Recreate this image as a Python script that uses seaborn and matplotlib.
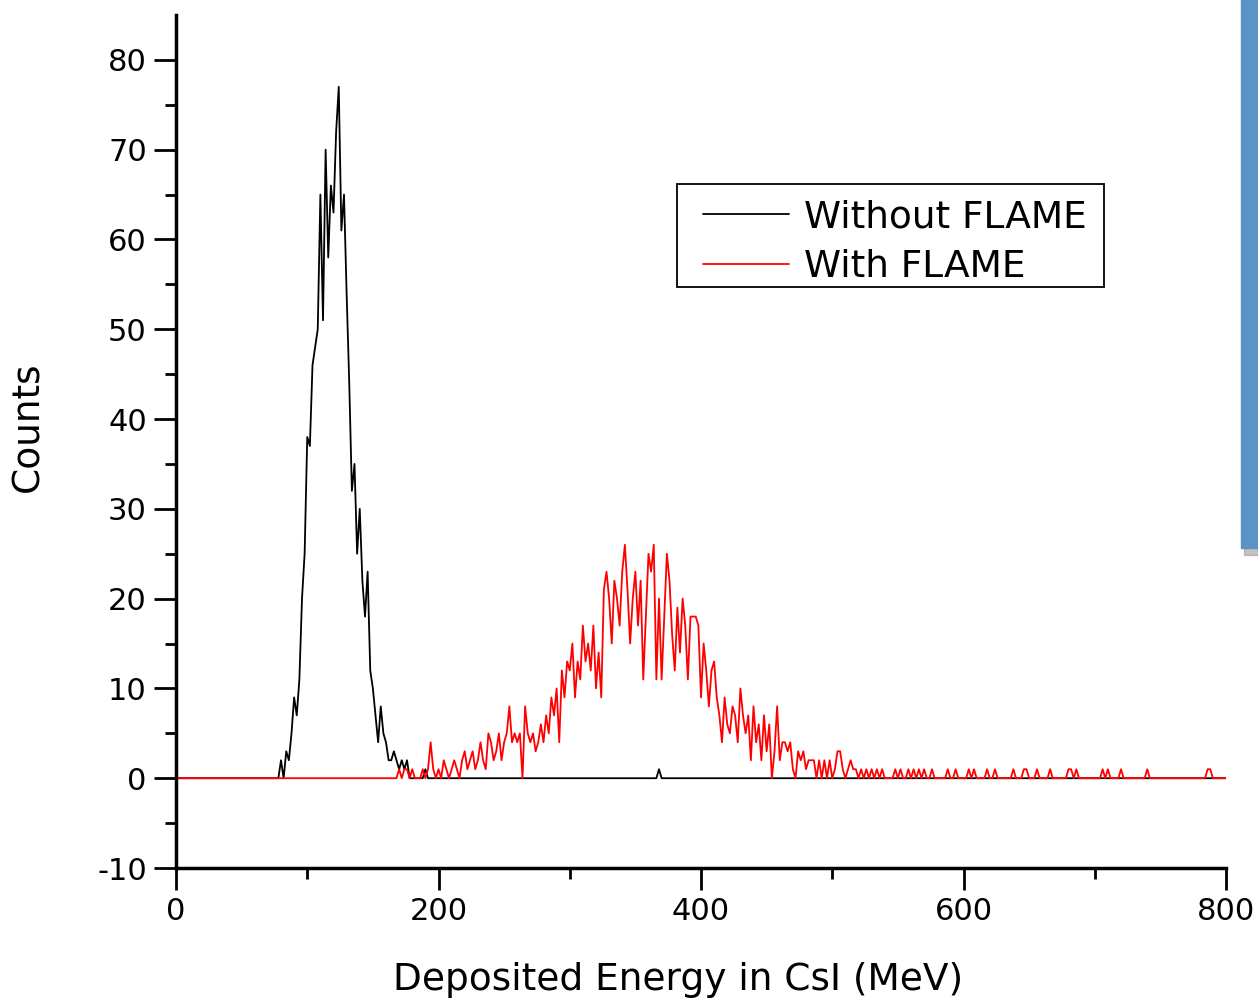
import numpy as np
import pandas as pd
import matplotlib
matplotlib.use("Agg")
import matplotlib.pyplot as plt
import seaborn as sns
from matplotlib.patches import Rectangle

# energy grid, 2 MeV bins over the full axis
bin_width = 2
energy = np.arange(0, 802, bin_width)

# Without FLAME: counts for 76..180 MeV
black_start = 76
black_counts = [0, 0, 2, 0, 3, 2, 5, 9, 7, 11, 20, 25, 38, 37, 46, 48, 50, 65,
                51, 70, 58, 66, 63, 72, 77, 61, 65, 54, 44, 32, 35, 25, 30, 22,
                18, 23, 12, 10, 7, 4, 8, 5, 4, 2, 2, 3, 2, 1, 2, 1, 2, 0, 0]
# single counts further out
black_extra = [190, 368]

# With FLAME: counts for 166..546 MeV
red_start = 166
red_counts = [0, 0, 1, 0, 1, 1, 0, 1, 0, 0, 0, 1, 0, 1, 4, 1, 0, 1, 0, 2,
              1, 0, 1, 2, 1, 0, 2, 3, 1, 2, 3, 1, 2, 4, 2, 1, 5, 4, 2, 3,
              5, 2, 4, 5, 8, 4, 5, 4, 5, 0, 8, 5, 4, 5, 3, 4, 6, 4, 7, 5,
              9, 7, 10, 4, 12, 9, 13, 12, 15, 9, 13, 11, 17, 13, 15, 12, 17, 10, 14, 9,
              21, 23, 20, 15, 22, 20, 17, 23, 26, 21, 15, 20, 23, 17, 22, 11, 18, 25, 23, 26,
              11, 20, 11, 18, 25, 22, 16, 12, 19, 14, 20, 17, 11, 18, 18, 18, 17, 9, 15, 12,
              8, 12, 13, 9, 7, 4, 9, 6, 5, 8, 7, 4, 10, 7, 5, 7, 2, 8, 4, 6,
              2, 7, 3, 6, 0, 3, 8, 2, 4, 4, 3, 4, 1, 0, 3, 2, 3, 1, 2, 2,
              2, 0, 2, 0, 2, 0, 2, 0, 1, 3, 3, 1, 0, 1, 2, 1, 1, 0, 1, 0,
              1, 0, 1, 0, 1, 0, 1, 0, 0, 0, 0]
# sparse single counts in the high-energy tail
red_tail = [548, 552, 558, 562, 566, 570, 576, 588, 594, 604, 608, 618, 624,
            638, 646, 648, 656, 666, 680, 682, 686, 706, 710, 720, 740, 786, 788]

black = np.zeros(len(energy))
i0 = black_start // bin_width
black[i0:i0 + len(black_counts)] = black_counts
for e in black_extra:
    black[e // bin_width] = 1

red = np.zeros(len(energy))
j0 = red_start // bin_width
red[j0:j0 + len(red_counts)] = red_counts
for e in red_tail:
    red[e // bin_width] = 1

df = pd.DataFrame({"energy": energy, "without": black, "with": red})

sns.set_style("ticks")
plt.rcParams["font.family"] = ["DejaVu Sans"]
plt.rcParams["axes.unicode_minus"] = False
plt.rcParams["text.color"] = "black"

fig = plt.figure(figsize=(12.58, 10.01), dpi=100)
ax = fig.add_axes([176 / 1258, 1 - 868 / 1001, 1050 / 1258, 853 / 1001])

sns.lineplot(data=df, x="energy", y="without", ax=ax, color="black",
             linewidth=1.3, estimator=None, label="Without FLAME")
sns.lineplot(data=df, x="energy", y="with", ax=ax, color="#ff0000",
             linewidth=1.3, estimator=None, label="With FLAME")

ax.set_xlim(0, 800)
ax.set_ylim(-10, 85)
ax.set_xticks([0, 200, 400, 600, 800])
ax.set_xticks([100, 300, 500, 700], minor=True)
ax.set_yticks(np.arange(-10, 81, 10))
ax.set_yticks(np.arange(-5, 85, 10), minor=True)
ax.tick_params(axis="both", which="major", direction="out", length=16,
               width=2, labelsize=22, colors="black", labelcolor="black", pad=5)
ax.tick_params(axis="both", which="minor", direction="out", length=8, width=2,
               colors="black")

sns.despine(ax=ax)
for s in ["left", "bottom"]:
    ax.spines[s].set_linewidth(2.5)
    ax.spines[s].set_color("black")

ax.set_xlabel("")
ax.set_ylabel("")
fig.text(28 / 1258, 1 - 427 / 1001, "Counts", rotation=90, ha="center",
         va="center", fontsize=27, color="black")
fig.text(678 / 1258, 1 - 980 / 1001, "Deposited Energy in CsI (MeV)",
         ha="center", va="center", fontsize=27, color="black")

leg = ax.legend(loc="upper left", bbox_to_anchor=(0.5019, 0.784), fontsize=27,
                frameon=False, handlelength=2.3, handletextpad=0.4,
                labelspacing=0.36, borderpad=0, borderaxespad=0)
for t in leg.get_texts():
    t.set_color("black")
# legend frame
ax.add_patch(Rectangle((0.4771, 0.6811), 0.4067, 0.1208, transform=ax.transAxes,
                       facecolor="none", edgecolor="black", linewidth=1.3,
                       zorder=5))

# blue bar at the right edge of the slide
fig.patches.append(Rectangle((1244 / 1258, 1 - 555 / 1001), 14 / 1258, 8 / 1001,
                             transform=fig.transFigure, color="#9a9a9a",
                             alpha=0.6, zorder=0))
fig.patches.append(Rectangle((1241 / 1258, 1 - 548 / 1001), 17 / 1258, 548 / 1001,
                             transform=fig.transFigure, color="#5b93c7", zorder=1))

fig.savefig("out.png", dpi=100)
